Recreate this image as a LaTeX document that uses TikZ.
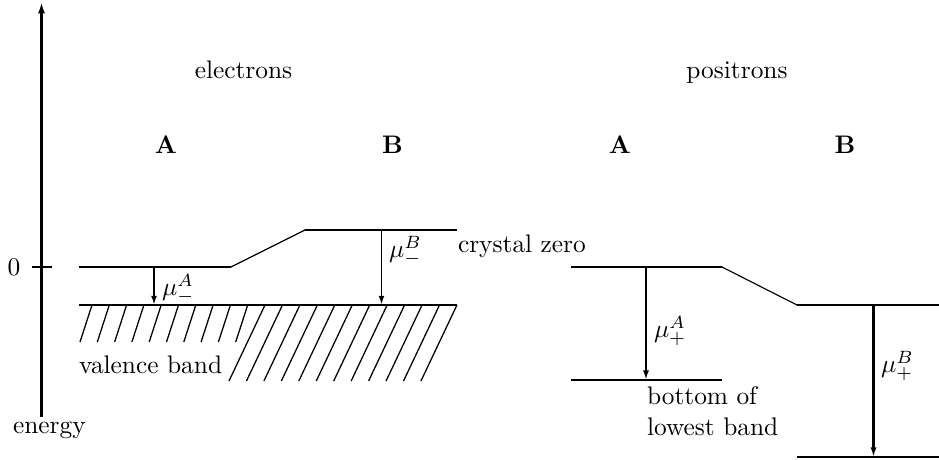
\documentclass[tikz,border=0pt]{standalone}
\usetikzlibrary{arrows.meta}
\begin{document}
\begin{tikzpicture}[x=0.394pt,y=-0.394pt,
  level/.style={line width=0.95pt},
  thinline/.style={line width=0.45pt},
  hatch/.style={line width=0.5pt},
  marrow/.style={line width=0.75pt,-{Latex[length=3.6pt,width=2.3pt]}},
  parrow/.style={line width=1pt,-{Latex[length=3.8pt,width=2.4pt]}},
  lbl/.style={inner sep=0pt,outer sep=0pt}]
\useasboundingbox (0,0) rectangle (939,459);
% energy axis
\coordinate (axb) at (41.5,417);
\coordinate (axt) at (41.5,2);
\draw[line width=1pt,-{Latex[length=4.5pt,width=2.8pt]}] (axb) -- (axt);
\coordinate (tl) at (32,267);
\coordinate (tr) at (52,267);
\draw[line width=1pt] (tl) -- (tr);
\node[lbl,anchor=base] (zero) at (14,275) {0};
\node[lbl,anchor=base west] (energy) at (13,433) {energy};
% headings
\node[lbl,anchor=base] (el) at (243.5,78) {electrons};
\node[lbl,anchor=base] (po) at (737,78) {positrons};
\node[lbl,anchor=base] (eA) at (166,153) {\bfseries A};
\node[lbl,anchor=base] (eB) at (392.5,153) {\bfseries B};
\node[lbl,anchor=base] (pA) at (620,153) {\bfseries A};
\node[lbl,anchor=base] (pB) at (845,153) {\bfseries B};
% electrons levels
\coordinate (eA0) at (79,267);
\coordinate (eA1) at (231,267);
\coordinate (eB0) at (305,230);
\coordinate (eB1) at (457,230);
\coordinate (vb0) at (79,305);
\coordinate (vb1) at (457,305);
\draw[level] (eA0) -- (eA1);
\draw[thinline] (eA1) -- (eB0);
\draw[level] (eB0) -- (eB1);
\draw[level] (vb0) -- (vb1);
\coordinate (muAt) at (154,267);
\coordinate (muAb) at (154,305);
\coordinate (muBt) at (381.5,230);
\coordinate (muBb) at (381.5,305);
\draw[marrow] (muAt) -- (muAb);
\draw[marrow] (muBt) -- (muBb);
\node[lbl,anchor=west] (lmA) at (162,289) {$\mu_-^A$};
\node[lbl,anchor=west] (lmB) at (389,251) {$\mu_-^B$};
\node[lbl,anchor=base west] (cz) at (458,252) {crystal zero};
% hatching
\foreach \i in {0,...,9}{
  \draw[hatch] ({92+\i*17.3},305) -- ({80+\i*17.3},342);
}
\foreach \j in {0,...,11}{
  \draw[hatch] ({265+\j*17.45},305) -- ({229+\j*17.45},381);
}
\node[lbl,anchor=base west] (vb) at (79,373) {valence band};
% positrons levels
\coordinate (pA0) at (571,267);
\coordinate (pA1) at (722,267);
\coordinate (pB0) at (797,305);
\coordinate (pB1) at (939,305);
\coordinate (pAb0) at (571,380);
\coordinate (pAb1) at (722,380);
\coordinate (pBb0) at (797,457);
\coordinate (pBb1) at (939,457);
\draw[level] (pA0) -- (pA1);
\draw[thinline] (pA1) -- (pB0);
\draw[level] (pB0) -- (pB1);
\draw[level] (pAb0) -- (pAb1);
\draw[level] (pBb0) -- (pBb1);
\coordinate (mpAt) at (646,267);
\coordinate (mpAb) at (646,380);
\coordinate (mpBt) at (873.5,305);
\coordinate (mpBb) at (873.5,457);
\draw[parrow] (mpAt) -- (mpAb);
\draw[parrow] (mpBt) -- (mpBb);
\node[lbl,anchor=west] (lpA) at (654,331) {$\mu_+^A$};
\node[lbl,anchor=west] (lpB) at (881,366) {$\mu_+^B$};
\node[lbl,anchor=base west] (bo1) at (647,404) {bottom of};
\node[lbl,anchor=base west] (bo2) at (647,435) {lowest band};
\end{tikzpicture}
\end{document}
